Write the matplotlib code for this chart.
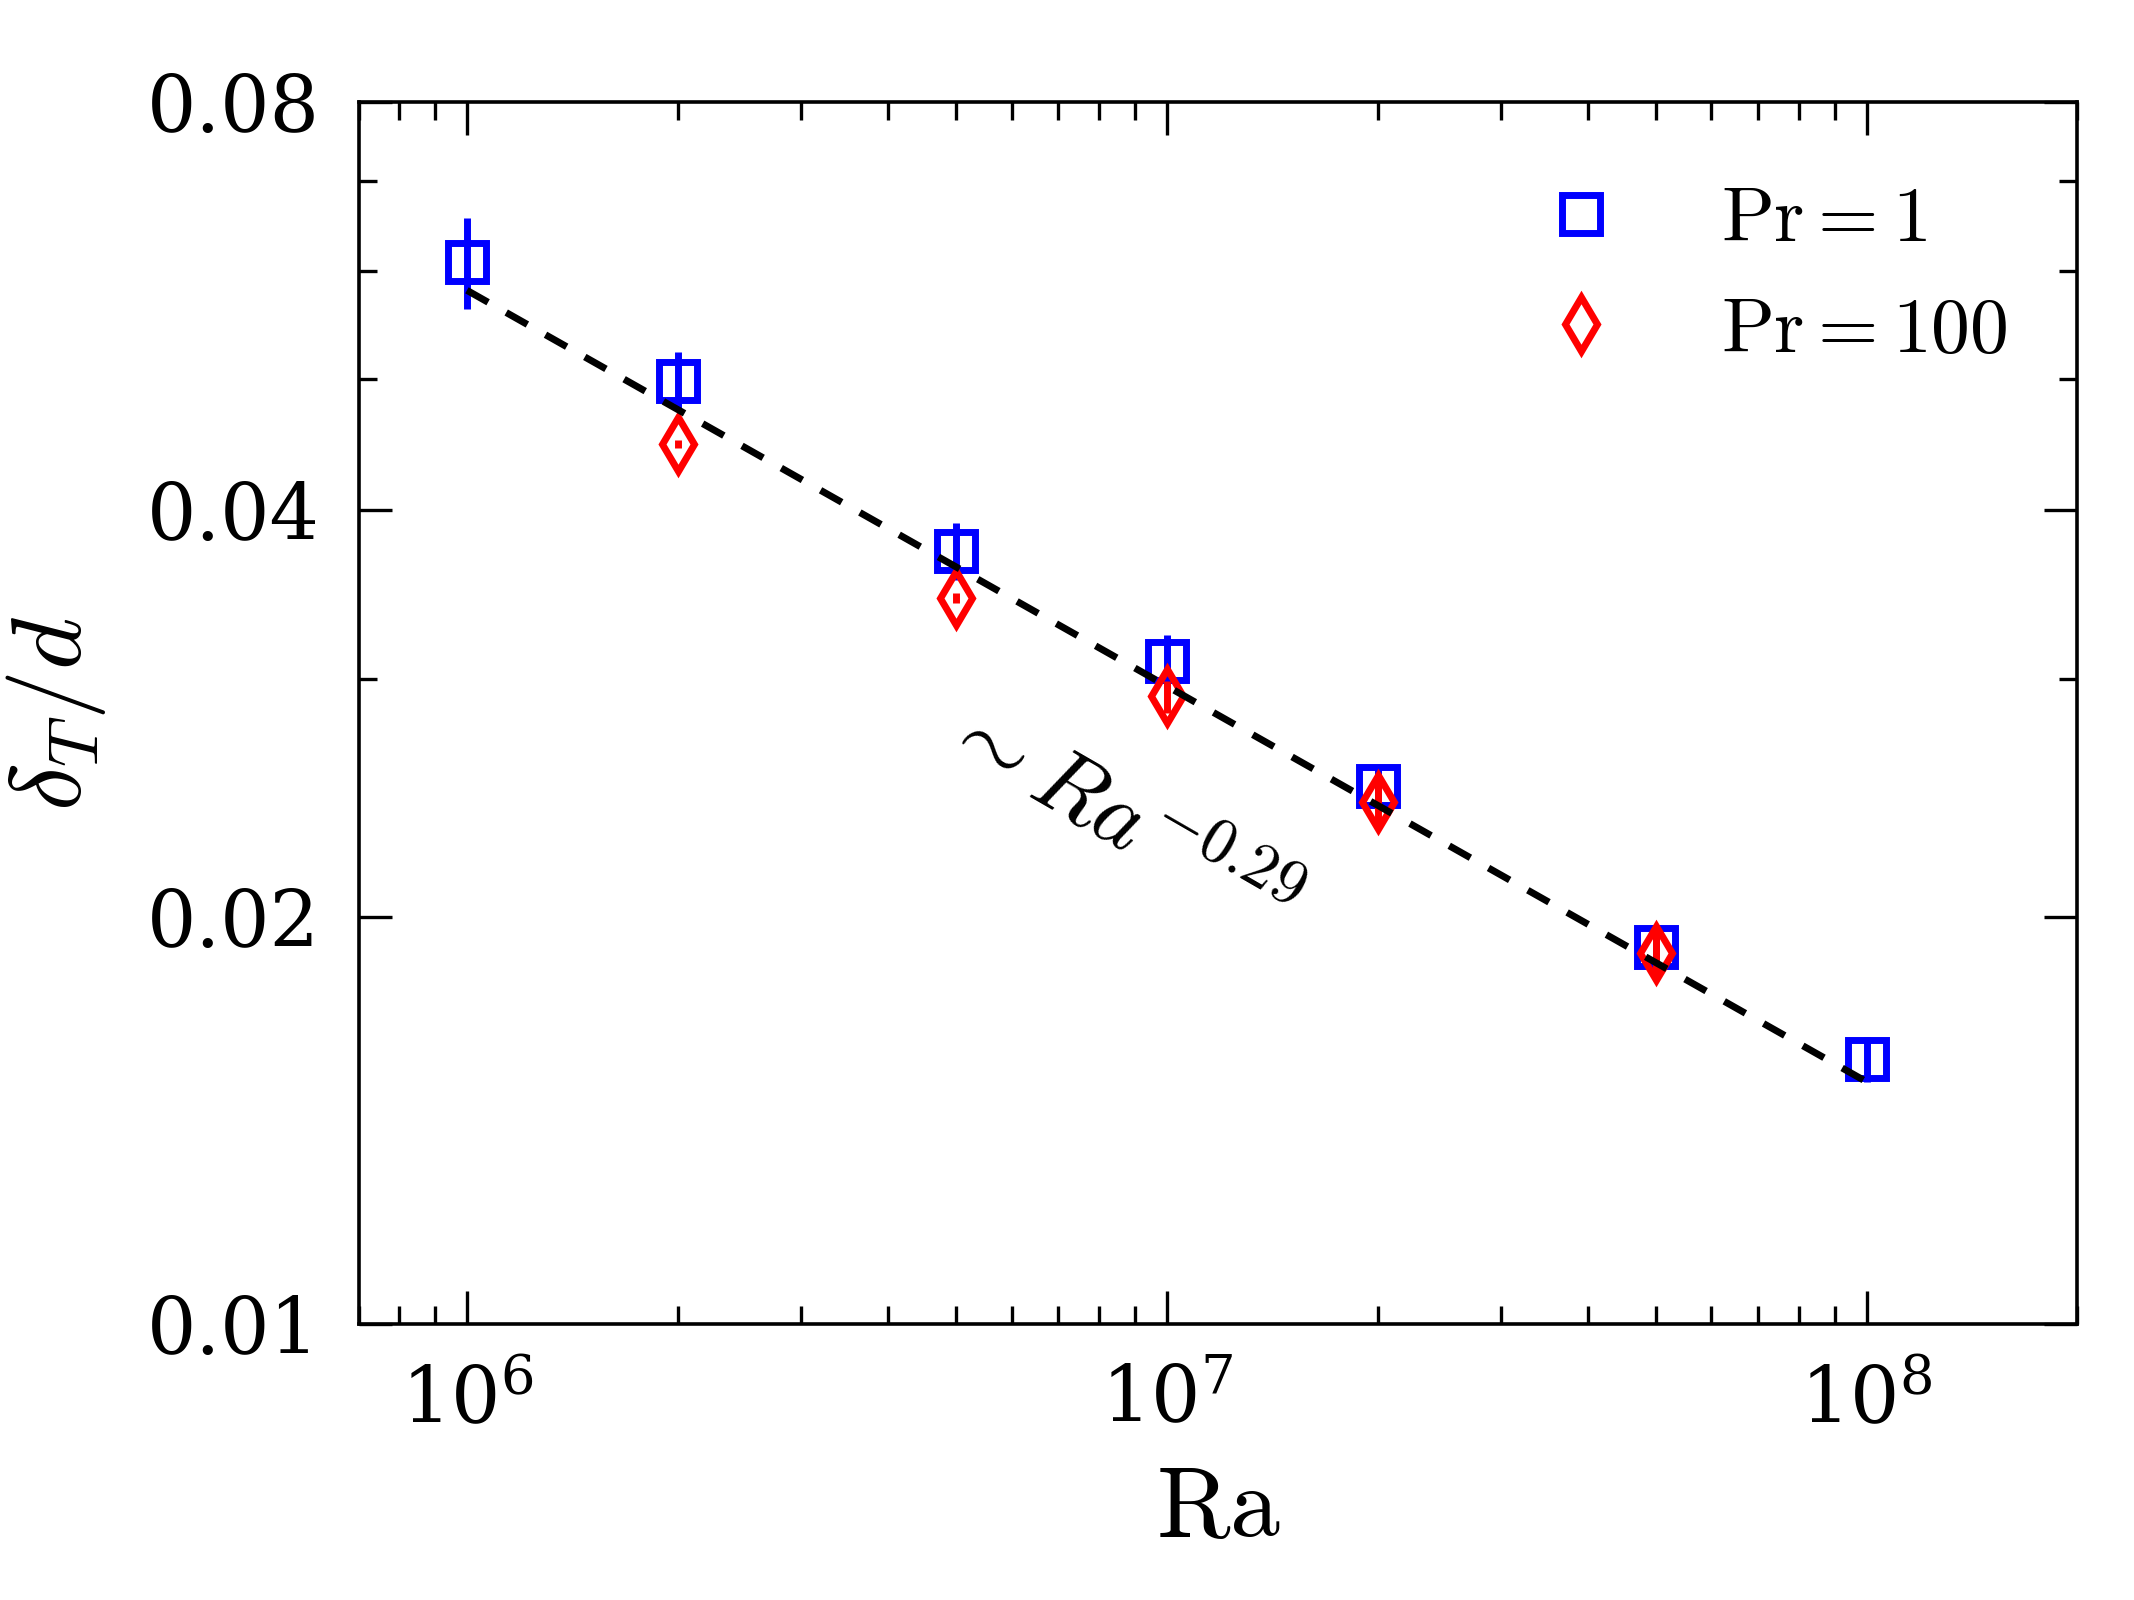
import matplotlib
matplotlib.use("Agg")
import matplotlib.pyplot as plt
from matplotlib.ticker import FixedLocator, FixedFormatter, NullFormatter, LogLocator

plt.rcParams['font.family'] = ['DejaVu Serif']
plt.rcParams['mathtext.fontset'] = 'cm'

# ---- data ----
ra_pr1 = [1e6, 2e6, 5e6, 1e7, 2e7, 5e7, 1e8]
delta_pr1 = [0.0610, 0.0498, 0.0373, 0.0309, 0.0250, 0.0190, 0.0157]
err_pr1 = [0.0047, 0.0025, 0.0018, 0.0014, 0.0009, 0.0006, 0.0006]

ra_pr100 = [2e6, 5e6, 1e7, 2e7, 5e7]
delta_pr100 = [0.0447, 0.0344, 0.0291, 0.0243, 0.0188]
err_pr100 = [0.0003, 0.0003, 0.0008, 0.0010, 0.0008]

fit_ra = [1e6, 1e8]
fit_delta = [0.0581, 0.0151]

label_pr1 = r'$\mathrm{Pr} = 1$'
label_pr100 = r'$\mathrm{Pr} = 100$'
fit_label = r'$\sim Ra^{-0.29}$'

y_major = [0.01, 0.02, 0.04, 0.08]
y_major_labels = ['0.01', '0.02', '0.04', '0.08']
y_minor = [0.03, 0.05, 0.06, 0.07]
x_major = [1e6, 1e7, 1e8]
x_major_labels = [r'$\mathdefault{10^{6}}$', r'$\mathdefault{10^{7}}$', r'$\mathdefault{10^{8}}$']

fig = plt.figure(figsize=(10.67, 8), dpi=200)
ax = fig.add_axes([0.168, 0.1725, 0.8055, 0.7635])

blue = '#0000ff'
red = '#ff0000'

ax.errorbar(ra_pr1, delta_pr1, yerr=err_pr1, fmt='none', ecolor=blue,
            elinewidth=2.5, capsize=0, zorder=2)
ax.plot(ra_pr1, delta_pr1, linestyle='none', marker='s', ms=14, mew=2.5,
        mec=blue, mfc='none', label=label_pr1, zorder=3)
ax.errorbar(ra_pr100, delta_pr100, yerr=err_pr100, fmt='none', ecolor=red,
            elinewidth=2.5, capsize=0, zorder=4)
ax.plot(ra_pr100, delta_pr100, linestyle='none', marker='d', ms=14, mew=2.5,
        mec=red, mfc='none', label=label_pr100, zorder=5)
ax.plot(fit_ra, fit_delta, color='black', lw=2.5, linestyle=(0, (3.5, 3.0)),
        zorder=6)

ax.set_xscale('log')
ax.set_yscale('log')
ax.set_xlim(7e5, 2e8)
ax.set_ylim(0.01, 0.08)

ax.yaxis.set_major_locator(FixedLocator(y_major))
ax.yaxis.set_major_formatter(FixedFormatter(y_major_labels))
ax.yaxis.set_minor_locator(FixedLocator(y_minor))
ax.yaxis.set_minor_formatter(NullFormatter())
ax.xaxis.set_major_locator(FixedLocator(x_major))
ax.xaxis.set_major_formatter(FixedFormatter(x_major_labels))
ax.xaxis.set_minor_locator(LogLocator(base=10, subs=[2, 3, 4, 5, 6, 7, 8, 9]))
ax.xaxis.set_minor_formatter(NullFormatter())

ax.tick_params(which='both', direction='in', top=True, right=True, width=1.2)
ax.tick_params(which='major', length=12, labelsize=28)
ax.tick_params(axis='y', which='major', pad=14)
ax.tick_params(axis='x', which='major', pad=14)
ax.tick_params(which='minor', length=6.5)
for s in ax.spines.values():
    s.set_linewidth(1.3)

ax.set_xlabel(r'$\mathrm{Ra}$', fontsize=36, labelpad=8)
ax.set_ylabel(r'$\delta_T/d$', fontsize=36, labelpad=14)

ax.text(8.5e6, 0.0236, fit_label, fontsize=33, rotation=-30,
        rotation_mode='anchor', ha='center', va='center')

ax.legend(loc='upper right', bbox_to_anchor=(1.0, 0.993), frameon=False,
          fontsize=28, numpoints=1, handlelength=2.0, handletextpad=0.8,
          labelspacing=0.45, borderaxespad=0.5)

fig.savefig('out.png', dpi=200)
